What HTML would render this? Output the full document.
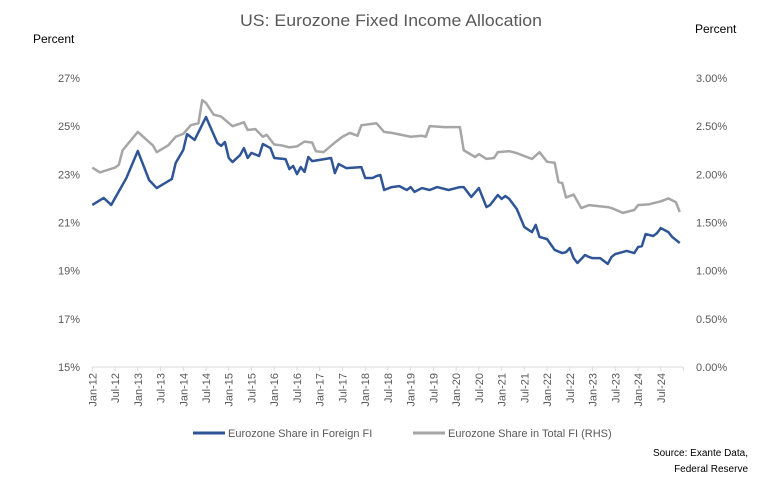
<!DOCTYPE html>
<html><head><meta charset="utf-8"><style>
html,body{margin:0;padding:0;background:#fff;}
svg{display:block;font-family:"Liberation Sans",sans-serif;}
</style></head><body>
<svg id="chart" width="775" height="487" viewBox="0 0 775 487">
<text x="391" y="26" text-anchor="middle" font-size="17" fill="#595959" textLength="302" lengthAdjust="spacingAndGlyphs">US: Eurozone Fixed Income Allocation</text>
<text x="33" y="43" font-size="12" fill="#000">Percent</text>
<text x="695" y="33" font-size="12" fill="#000">Percent</text>
<g id="axes"></g>
<g id="series"></g>
<g>
<line x1="193" y1="433" x2="225" y2="433" stroke="#2F5597" stroke-width="3"/>
<text x="228" y="437" font-size="11" fill="#595959">Eurozone Share in Foreign FI</text>
<line x1="413" y1="433" x2="445" y2="433" stroke="#A6A6A6" stroke-width="3"/>
<text x="448" y="437" font-size="11" fill="#595959">Eurozone Share in Total FI (RHS)</text>
</g>
<text x="748" y="456" text-anchor="end" font-size="10" fill="#000">Source: Exante Data,</text>
<text x="748" y="472" text-anchor="end" font-size="10" fill="#000">Federal Reserve</text>
</svg>
<script>
const xTickLabels = ["Jan-12","Jul-12","Jan-13","Jul-13","Jan-14","Jul-14","Jan-15","Jul-15","Jan-16","Jul-16","Jan-17","Jul-17","Jan-18","Jul-18","Jan-19","Jul-19","Jan-20","Jul-20","Jan-21","Jul-21","Jan-22","Jul-22","Jan-23","Jul-23","Jan-24","Jul-24"];
const leftTicks = [15,17,19,21,23,25,27];
const rightTicks = [0,0.5,1,1.5,2,2.5,3];
const foreignMonths = [0,3,5,9,12,15,17,21,22,24,25,27,30,33,34,35,36,37,39,40,41,42,44,45,47,48,51,52,53,54,55,56,57,58,63,64,65,67,71,72,74,75,76,77,79,81,83,84,85,87,89,91,94,97,98,100,102,104,105,107,108,109,110,112,114,116,117,118,120,122,124,125,126,127,128,130,131,132,134,136,137,138,141,143,144,145,146,148,149,150,152,153,155];
const foreignValues = [21.73,22.02,21.73,22.85,23.97,22.76,22.43,22.81,23.47,24.01,24.67,24.43,25.38,24.30,24.18,24.34,23.68,23.51,23.80,24.09,23.68,23.89,23.76,24.26,24.09,23.68,23.63,23.22,23.35,23.01,23.30,23.10,23.72,23.55,23.68,23.05,23.43,23.26,23.30,22.85,22.85,22.93,22.97,22.35,22.47,22.51,22.35,22.47,22.27,22.43,22.35,22.47,22.35,22.47,22.47,22.06,22.43,21.64,21.73,22.14,21.98,22.10,21.98,21.56,20.81,20.60,20.90,20.40,20.31,19.86,19.73,19.77,19.94,19.52,19.32,19.65,19.57,19.52,19.52,19.28,19.57,19.69,19.82,19.73,19.98,20.02,20.52,20.44,20.56,20.77,20.60,20.40,20.15];
const totalMonths = [0,2,6,7,8,12,16,17,20,22,24,26,28,29,30,32,34,37,40,41,43,45,46,48,50,52,54,56,58,59,61,64,66,68,70,71,75,77,79,84,87,88,89,93,97,98,101,102,104,106,107,110,112,116,118,120,122,123,124,125,127,129,131,136,137,140,143,144,147,150,152,154,155];
const totalValues = [2.07,2.02,2.07,2.10,2.25,2.44,2.30,2.23,2.30,2.39,2.42,2.51,2.53,2.77,2.74,2.62,2.60,2.50,2.54,2.46,2.47,2.39,2.41,2.31,2.30,2.28,2.29,2.34,2.33,2.24,2.23,2.33,2.39,2.43,2.40,2.51,2.53,2.44,2.43,2.39,2.40,2.39,2.50,2.49,2.49,2.25,2.18,2.21,2.16,2.17,2.23,2.24,2.22,2.16,2.23,2.13,2.12,1.92,1.91,1.76,1.79,1.65,1.68,1.66,1.65,1.60,1.63,1.68,1.69,1.72,1.75,1.71,1.61];

const NS="http://www.w3.org/2000/svg";
const X0=92.3, XM=3.79, YT=78, YB=367;
function xScale(m){return X0+XM*m;}
function yLeft(v){return YB-(v-15)/12*(YB-YT);}
function yRight(v){return YB-v/3*(YB-YT);}
function mk(tag,attrs,parent){const e=document.createElementNS(NS,tag);for(const k in attrs)e.setAttribute(k,attrs[k]);parent.appendChild(e);return e;}
const axes=document.getElementById('axes');
const base=mk('line',{x1:X0,y1:YB,x2:683,y2:YB,stroke:'#D9D9D9','stroke-width':1},axes);


for(let i=0;i<=26;i++){
  const x=xScale(i*6);
  if(x>684)break;
  const t=mk('line',{x1:x,y1:YB,x2:x,y2:YB+4,stroke:'#D9D9D9','stroke-width':1},axes);
  
  
}
xTickLabels.forEach((lab,i)=>{
  const x=xScale(i*6)+4;
  const t=mk('text',{x:0,y:0,'font-size':11,fill:'#595959','text-anchor':'end',transform:`translate(${x},373) rotate(-90)`},axes);
  t.textContent=lab;
  
  
});
leftTicks.forEach(v=>{
  const t=mk('text',{x:80,y:yLeft(v)+4,'font-size':11,fill:'#595959','text-anchor':'end'},axes);
  t.textContent=v+'%';
  
  
});
rightTicks.forEach(v=>{
  const t=mk('text',{x:696,y:yRight(v)+4,'font-size':11,fill:'#595959'},axes);
  t.textContent=v.toFixed(2)+'%';
  
  
});
const series=document.getElementById('series');
const pg=mk('polyline',{points:totalMonths.map((m,i)=>xScale(m)+','+yRight(totalValues[i])).join(' '),fill:'none',stroke:'#A6A6A6','stroke-width':2.5,'stroke-linejoin':'round'},series);


const pb=mk('polyline',{points:foreignMonths.map((m,i)=>xScale(m)+','+yLeft(foreignValues[i])).join(' '),fill:'none',stroke:'#2F5597','stroke-width':2.5,'stroke-linejoin':'round'},series);


</script>
</body></html>
